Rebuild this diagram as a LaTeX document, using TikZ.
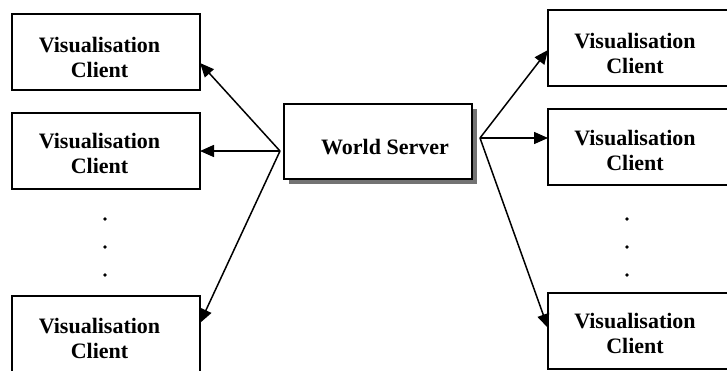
\documentclass[tikz,border=0pt]{standalone}
\usepackage{fontspec}
\setmainfont{Liberation Serif}
\usetikzlibrary{arrows.meta,shadows}
\tikzstyle{Arrow}=[line width=1.5pt,-{Triangle[length=14pt,width=12pt]}]

\begin{document}
\begin{tikzpicture}[
  x=1pt, y=-1pt,
  Box/.style={draw, line width=1.8pt, minimum width=188pt, minimum height=76pt, inner sep=0, outer sep=0},
  Label/.style={align=center, font=\fontsize{22}{25}\selectfont\bfseries, inner sep=0}
]
\useasboundingbox (0,0) rectangle (727,370);

% server in the middle
\node[Box, minimum height=75pt, fill=white,
  drop shadow={shadow xshift=4.5pt, shadow yshift=-4.5pt, fill=black!55, opacity=1}] (server) at (378,141.5) {};
\node[Label] (servertext) at (385,147.5) {World Server};

% clients on the left
\node[Box] (vl1) at (106,52) {};
\node[Box] (vl2) at (106,151) {};
\node[Box] (vl3) at (106,334) {};
\node[Label] (vl1text) at (99.5,57) {Visualisation\\Client};
\node[Label] (vl2text) at (99.5,153.5) {Visualisation\\Client};
\node[Label] (vl3text) at (99.5,338) {Visualisation\\Client};

% clients on the right
\node[Box] (vr1) at (642,48) {};
\node[Box] (vr2) at (642,147) {};
\node[Box] (vr3) at (642,331) {};
\node[Label] (vr1text) at (635,53) {Visualisation\\Client};
\node[Label] (vr2text) at (635,150) {Visualisation\\Client};
\node[Label] (vr3text) at (635,333.5) {Visualisation\\Client};

% dots
\foreach \y in {219,247,275} {
  \fill (105,\y) circle (1.8pt);
  \fill (627,\y) circle (1.8pt);
}

\coordinate (hubL) at (280,151);
\coordinate (hubR) at (480,138);

\draw[Arrow] (hubL) to ([yshift=-11pt]vl1.east);
\draw[Arrow] (hubL) to (vl2.east);
\draw[Arrow] (hubL) to ([yshift=11pt]vl3.east);

\draw[Arrow] (hubR) to ([yshift=-2pt]vr1.west);
\draw[Arrow] (hubR) to ([yshift=9pt]vr2.west);
\draw[Arrow] (hubR) to ([yshift=3pt]vr3.west);

\end{tikzpicture}
\end{document}
